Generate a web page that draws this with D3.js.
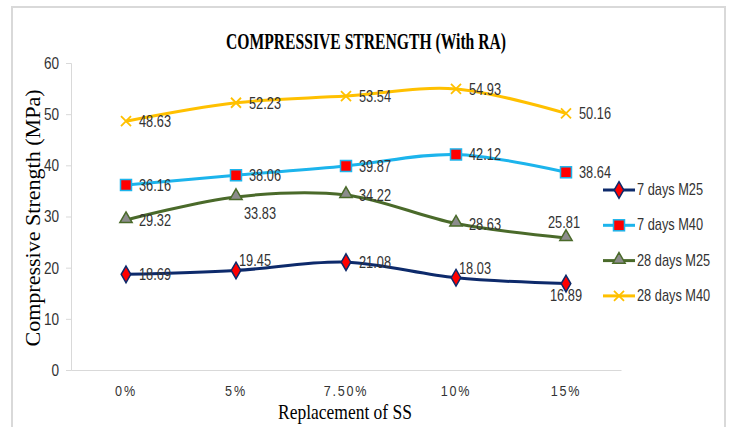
<!DOCTYPE html>
<meta charset="utf-8">
<style>
  body { margin: 0; background: #fff; }
  text { fill: #333; }
</style>
<body>
<script src="https://cdnjs.cloudflare.com/ajax/libs/d3/7.8.5/d3.min.js"></script>
<script>

// data
var categories = ["0%", "5%", "7.50%", "10%", "15%"];
var seriesNames = ["7 days M25", "7 days M40", "28 days M25", "28 days M40"];
var m25Day7 = [18.69, 19.45, 21.08, 18.03, 16.89];
var m40Day7 = [36.16, 38.06, 39.87, 42.12, 38.64];
var m25Day28 = [29.32, 33.83, 34.22, 28.63, 25.81];
var m40Day28 = [48.63, 52.23, 53.54, 54.93, 50.16];
var yTicks = [0, 10, 20, 30, 40, 50, 60];

// where each value label sits relative to its point
var labelPos = [
  ["right", "aboveRight", "right", "aboveRight", "below"],
  ["right", "right", "right", "right", "right"],
  ["right", "belowRight", "right", "right", "above"],
  ["right", "right", "right", "right", "right"]
];

var width = 729,
    height = 427;

var svg = d3.select("body").append("svg")
    .attr("width", width)
    .attr("height", height);

// outer chart border
svg.append("rect")
    .attr("x", 12).attr("y", 7)
    .attr("width", 713).attr("height", 440)
    .attr("fill", "none")
    .attr("stroke", "#d9d9d9")
    .attr("stroke-width", 2);

var x = d3.scaleBand().domain(categories).range([71, 621]);
var y = d3.scaleLinear().domain([0, 60]).range([370, 63]);

var sans = "'Liberation Sans', Arial, sans-serif";
var serif = "'Liberation Serif', 'DejaVu Serif', serif";
var squeeze = 0.8; // the original font is a narrow one

// y axis
var yAxis = svg.append("g")
    .attr("transform", "translate(71,0)")
    .call(d3.axisLeft(y).tickValues(yTicks).tickSize(5).tickPadding(10));
yAxis.select(".domain").attr("stroke", "#d9d9d9");
yAxis.selectAll(".tick line").attr("stroke", "#d9d9d9");
yAxis.selectAll(".tick text")
    .attr("font-family", sans)
    .attr("font-size", 17)
    .attr("transform", "scale(" + squeeze + ",1)")
    .attr("fill", "#404040");

// x axis
var xAxis = svg.append("g")
    .attr("transform", "translate(0,370)")
    .call(d3.axisBottom(x).tickSize(0).tickPadding(16));
xAxis.select(".domain").attr("stroke", "#d9d9d9");
xAxis.selectAll(".tick text")
    .attr("font-family", sans)
    .attr("font-size", 14)
    .attr("letter-spacing", "2px")
    .attr("transform", "scale(0.9,1)")
    .attr("fill", "#404040");

// titles
svg.append("text")
    .attr("x", 366).attr("y", 49)
    .attr("text-anchor", "middle")
    .attr("font-family", serif)
    .attr("font-weight", "bold")
    .attr("font-size", 24)
    .attr("textLength", 280)
    .attr("lengthAdjust", "spacingAndGlyphs")
    .style("fill", "#000")
    .text("COMPRESSIVE STRENGTH (With RA)");

svg.append("text")
    .attr("x", 345).attr("y", 419)
    .attr("text-anchor", "middle")
    .attr("font-family", serif)
    .attr("font-size", 21)
    .attr("textLength", 134)
    .attr("lengthAdjust", "spacingAndGlyphs")
    .style("fill", "#000")
    .text("Replacement of SS");

svg.append("text")
    .attr("transform", "translate(40,218) rotate(-90)")
    .attr("text-anchor", "middle")
    .attr("font-family", serif)
    .attr("font-size", 20)
    .attr("textLength", 257)
    .attr("lengthAdjust", "spacingAndGlyphs")
    .style("fill", "#000")
    .text("Compressive Strength (MPa)");

// series styling
var lineColors = ["#0d2a6b", "#1cb4ec", "#4a6a2a", "#ffc000"];
var markerFill = ["#ff0000", "#ff0000", "#8c8c8c", "none"];
var markerType = ["diamond", "square", "triangle", "cross"];

var series = [m25Day7, m40Day7, m25Day28, m40Day28];

var line = d3.line()
    .x(function(d, i) { return x(categories[i]) + x.bandwidth() / 2; })
    .y(function(d) { return y(d); })
    .curve(d3.curveCatmullRom.alpha(0.5));

function drawMarker(g, type, i, cx, cy) {
  if (type === "diamond") {
    g.append("path")
        .attr("d", d3.symbol().type(d3.symbolDiamond).size(80)())
        .attr("transform", "translate(" + cx + "," + cy + ")")
        .attr("fill", markerFill[i])
        .attr("stroke", lineColors[i])
        .attr("stroke-width", 1.5);
  } else if (type === "square") {
    g.append("rect")
        .attr("x", cx - 5.5).attr("y", cy - 5.5)
        .attr("width", 11).attr("height", 11)
        .attr("fill", markerFill[i])
        .attr("stroke", lineColors[i])
        .attr("stroke-width", 1.5);
  } else if (type === "triangle") {
    g.append("path")
        .attr("d", d3.symbol().type(d3.symbolTriangle).size(65)())
        .attr("transform", "translate(" + cx + "," + (cy - 1) + ")")
        .attr("fill", markerFill[i])
        .attr("stroke", lineColors[i])
        .attr("stroke-width", 1.5);
  } else {
    g.append("path")
        .attr("d", "M-5,-5L5,5M-5,5L5,-5")
        .attr("transform", "translate(" + cx + "," + cy + ")")
        .attr("fill", "none")
        .attr("stroke", lineColors[i])
        .attr("stroke-width", 1.8);
  }
}

var labelOffsets = {
  right: [13, 6, "start"],
  aboveRight: [3, -4, "start"],
  below: [0, 17, "middle"],
  above: [-2, -10, "middle"],
  belowRight: [8, 22, "start"]
};

series.forEach(function(vals, i) {
  var g = svg.append("g");
  g.append("path")
      .datum(vals)
      .attr("d", line)
      .attr("fill", "none")
      .attr("stroke", lineColors[i])
      .attr("stroke-width", 3);

  vals.forEach(function(v, j) {
    var cx = x(categories[j]) + x.bandwidth() / 2,
        cy = y(v);
    drawMarker(g, markerType[i], i, cx, cy);
    var o = labelOffsets[labelPos[i][j]];
    g.append("text")
        .attr("transform", "translate(" + (cx + o[0]) + "," + (cy + o[1]) + ") scale(" + squeeze + ",1)")
        .attr("text-anchor", o[2])
        .attr("font-family", sans)
        .attr("font-size", 16)
        .text(v.toFixed(2));
  });
});

// legend
var legend = svg.append("g");
seriesNames.forEach(function(name, i) {
  var ly = 190 + i * 35.3;
  legend.append("line")
      .attr("x1", 603).attr("x2", 635)
      .attr("y1", ly).attr("y2", ly)
      .attr("stroke", lineColors[i])
      .attr("stroke-width", 3);
  drawMarker(legend, markerType[i], i, 619, ly);
  legend.append("text")
      .attr("transform", "translate(637," + (ly + 5) + ") scale(" + squeeze + ",1)")
      .attr("font-family", sans)
      .attr("font-size", 16)
      .text(name);
});

</script>
</body>
